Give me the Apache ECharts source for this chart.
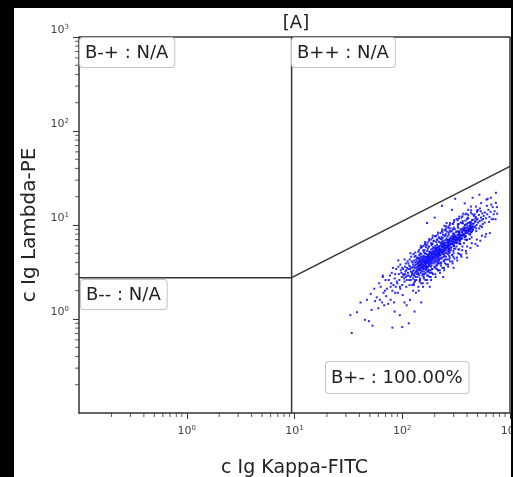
<!DOCTYPE html>
<html><head><meta charset="utf-8">
<script src="https://cdn.jsdelivr.net/npm/echarts@6/dist/echarts.min.js"></script>
<style>
html,body{margin:0;padding:0;background:#000;width:513px;height:477px;overflow:hidden}
#c{position:absolute;left:14px;top:8px;width:497px;height:469px;background:#fff}
</style></head><body><div id="c"></div>
<script>
const titleText = '[A]';
const xName = 'c Ig Kappa-FITC';
const yName = 'c Ig Lambda-PE';
const axisMin = 0.1, axisMax = 1000;
const minorTicks = [0.2,0.3,0.4,0.5,0.6,0.7,0.8,0.9,2,3,4,5,6,7,8,9,20,30,40,50,60,70,80,90,200,300,400,500,600,700,800,900];
const gateX = 9.4;
const gateVertical = [[gateX,0.1],[gateX,1000]];
const gateHorizontal = [[0.1,2.75],[gateX,2.75]];
const gateDiagonal = [[gateX,2.75],[1000,42]];
const quadrantLabels = ['B-+ : N/A','B++ : N/A','B-- : N/A','B+- : 100.00%'];
const events = [
[34,0.71],[33,1.1],[38,1.18],[45,0.98],[41,1.5],[47,1.6],[52,1.25],[55,2.1],[51,1.85],[56,1.55],[53,0.85],[49,0.95],
[58,1.7],[63,2.2],[60,1.3],[67,1.9],[70,2.6],[65,1.5],[69,2.0],[61,2.4],[66,2.8],[68,1.4],[71,1.75],[62,1.6],
[72,2.1],[75,2.6],[78,1.6],[80,3.1],[83,2.3],[86,1.9],[74,1.45],[77,2.9],[81,2.0],[85,2.7],[88,3.4],[79,2.4],[84,1.5],[87,2.2],[82,3.5],[89,2.5],[86,3.0],[78,2.2],
[90,2.4],[93,3.0],[96,2.1],[99,2.8],[102,3.4],[105,2.5],[108,3.9],[111,2.9],[91,1.9],[94,2.6],[97,3.3],[100,2.3],[103,2.9],[106,3.6],[109,2.2],[92,3.6],[95,2.2],[98,3.1],[101,1.8],[104,2.7],[107,3.2],[110,2.6],[96,3.8],[102,3.0],[105,4.3],[108,2.8],[111,3.5],[100,3.5],[106,3.0],[109,3.3],[112,4.1],
[113,3.1],[116,2.6],[119,3.6],[122,2.9],[125,4.0],[128,3.3],[131,2.5],[134,3.8],[137,3.0],[140,4.4],[114,3.9],[117,2.3],[120,3.2],[123,3.5],[126,2.7],[129,4.2],[132,3.1],[135,3.5],[138,2.8],[141,3.7],[115,2.9],[118,3.4],[121,4.6],[124,3.0],[127,3.6],[130,2.9],[133,4.7],[136,3.3],[139,3.9],[116,3.7],[119,2.8],[122,4.1],[125,3.2],[128,2.4],[131,3.7],[134,3.2],[137,4.5],[140,3.1],[117,4.3],[120,2.6],[123,3.1],[126,3.8],[129,2.9],[132,4.0],[135,2.6],[138,3.6],[141,5.2],[114,3.4],[124,2.3],[130,3.5],[136,4.1],[119,5.0],[127,3.0],[133,2.8],[139,3.3],
[142,3.6],[145,4.2],[148,3.1],[151,3.9],[154,4.6],[157,3.4],[160,4.0],[163,5.0],[166,3.7],[169,4.3],[172,3.2],[175,4.8],[178,4.1],
[143,4.5],[146,3.3],[149,3.8],[152,4.3],[155,3.0],[158,4.7],[161,3.6],[164,4.2],[167,3.4],[170,5.3],[173,3.9],[176,4.4],
[144,2.9],[147,4.0],[150,4.9],[153,3.5],[156,4.1],[159,3.2],[162,4.4],[165,3.8],[168,4.9],[171,3.5],[174,4.2],[177,3.7],
[142,4.1],[145,3.5],[148,4.4],[151,3.3],[154,3.8],[157,5.4],[160,3.0],[163,4.1],[166,4.6],[169,3.6],[172,4.5],[175,3.3],[178,5.2],
[146,2.6],[152,5.8],[158,2.8],[164,6.1],[170,2.9],[176,5.9],[149,4.6],[155,4.4],[161,5.0],[167,4.0],[173,4.7],[143,3.8],[156,3.6],[162,3.9],[168,4.2],[174,3.6],[150,3.7],[165,3.1],[177,4.0],
[179,4.6],[182,5.2],[185,4.0],[188,4.8],[191,5.6],[194,4.3],[197,5.0],[200,4.5],[203,6.0],[206,4.9],[209,4.2],[212,5.4],[215,4.7],[218,5.9],[221,5.1],[224,4.4],
[180,3.8],[183,4.4],[186,5.5],[189,4.1],[192,4.9],[195,3.9],[198,5.7],[201,4.8],[204,4.1],[207,5.3],[210,6.2],[213,4.5],[216,5.0],[219,4.2],[222,5.6],
[181,5.0],[184,3.6],[187,4.6],[190,6.3],[193,4.6],[196,5.3],[199,3.6],[202,5.1],[205,5.7],[208,3.8],[211,4.8],[214,5.8],[217,4.3],[220,6.6],[223,4.9],
[179,3.3],[185,6.4],[191,3.4],[197,6.8],[203,3.5],[209,7.0],[215,3.9],[221,7.4],[188,5.1],[194,5.8],[200,4.0],[206,5.5],[212,4.0],[218,5.2],[182,4.2],[196,4.6],[210,5.1],[224,5.3],[187,3.1],[201,7.6],[214,3.3],
[225,5.6],[229,6.3],[233,5.0],[237,6.0],[241,6.8],[245,5.3],[249,6.1],[253,5.7],[257,7.2],[261,5.9],[265,5.2],[269,6.6],[273,6.0],[277,7.0],[281,6.3],
[227,4.8],[231,5.4],[235,6.6],[239,5.1],[243,5.9],[247,4.7],[251,6.9],[255,5.4],[259,6.4],[263,7.6],[267,5.5],[271,6.2],[275,5.1],[279,7.4],
[226,6.5],[230,4.4],[234,5.8],[238,7.3],[242,4.9],[246,6.5],[250,5.6],[254,4.6],[258,6.0],[262,6.9],[266,4.9],[270,7.9],[274,5.6],[278,6.7],[282,5.4],
[228,3.9],[236,8.4],[244,4.1],[252,8.8],[260,4.3],[268,9.3],[276,4.5],[232,7.0],[240,6.3],[248,7.7],[256,5.0],[264,6.1],[272,5.3],[280,8.5],[234,4.5],[258,10.5],[246,9.8],
[284,6.8],[289,7.6],[294,6.2],[299,7.3],[304,8.1],[309,6.5],[314,7.5],[319,7.0],[324,8.6],[329,7.2],[334,6.4],[339,8.0],[344,7.4],[349,8.9],[354,7.8],
[286,5.8],[291,6.6],[296,8.1],[301,6.0],[306,7.1],[311,5.6],[316,8.4],[321,6.6],[326,7.8],[331,9.3],[336,6.9],[341,7.6],[346,6.3],[351,9.0],
[288,8.6],[298,5.3],[308,9.0],[318,5.9],[328,10.2],[338,5.5],[348,10.6],[293,7.0],[303,7.8],[313,6.9],[323,7.4],[333,8.3],[343,6.8],[353,7.1],[296,10.3],[320,11.6],[340,4.9],[290,4.8],
[358,8.4],[364,9.2],[370,7.8],[376,9.0],[382,10.0],[388,8.2],[394,9.4],[400,8.8],[406,10.5],[412,9.0],[418,8.0],[424,9.8],[430,9.1],[436,10.8],[442,9.5],
[361,7.2],[367,10.4],[373,8.7],[379,7.5],[385,11.1],[391,8.5],[397,7.0],[403,9.9],[409,11.7],[415,8.6],[421,10.7],[427,7.9],[433,9.6],[439,8.4],[445,11.3],
[362,12.4],[374,6.4],[386,13.0],[398,6.9],[410,12.8],[422,7.1],[434,13.5],[446,9.0],[368,8.9],[392,10.2],[416,9.3],[440,7.4],
[450,10.3],[458,11.4],[466,9.6],[474,10.9],[482,12.2],[490,10.0],[498,11.6],[506,10.6],[514,12.8],[522,11.0],[530,9.8],[538,12.0],[546,11.2],[554,13.3],[562,11.6],
[454,8.8],[470,13.0],[486,8.6],[502,14.4],[518,9.2],[534,14.0],[550,9.5],[462,12.5],[494,13.8],[526,15.0],[558,10.2],[478,11.8],
[570,12.5],[585,13.6],[600,11.8],[615,13.0],[630,14.5],[645,12.2],[660,13.8],[675,11.5],[690,15.5],[705,13.0],[580,10.6],[610,16.0],[640,10.8],[670,16.5],[700,11.6],
[720,14.0],[740,17.2],[760,13.2],[735,11.5],[740,22],[755,15.5],
[234,16],[290,14.5],[380,17],[310,19],[450,19.5],[520,21],[620,19],[200,12],[170,10.5],
[81,0.81],[100,0.82],[115,0.9],[130,1.2],[150,1.5],[95,1.1],[180,2.2],[240,2.8],[300,3.5],[400,4.5],[500,6],[600,8],
[66,2.9],[85,1.2],[92,4.2],[105,1.5],[110,1.4],[118,1.6],
[126,2.0],[128,2.3],[130,4.6],[132,5.1],[134,1.9],[127,4.9],[131,2.6],[135,4.3],
[141,2.2],[143,5.4],[145,2.5],[147,5.0],[149,6.0],[142,2.0],[144,4.8],[146,2.7],[148,5.7],[150,2.4],
[155,2.4],[157,6.0],[159,2.7],[161,5.4],[163,6.6],[156,2.2],[158,5.2],[160,3.0],[162,6.3],[164,2.6],[166,5.8],[154,2.9],
[170,2.6],[172,6.5],[174,2.9],[176,5.9],[178,7.1],[171,2.4],[173,5.6],[175,3.2],[177,6.8],[179,2.8],[169,6.2],[180,3.1],
[184,2.8],[186,7.0],[188,3.1],[190,6.3],[192,7.7],[185,2.6],[187,6.1],[189,3.4],[191,7.3],[193,3.0],[195,6.7],[183,3.3],
[203,3.0],[206,7.6],[209,3.4],[212,6.9],[215,8.3],[204,2.8],[207,6.6],[210,3.7],[213,7.9],[216,3.3],[218,7.3],[201,3.6],
[223,3.3],[226,8.2],[229,3.7],[232,7.4],[235,9.0],[224,3.1],[227,7.1],[230,4.0],[233,8.6],[236,3.5],[238,7.9],[221,3.9],
[244,3.5],[247,8.8],[250,3.9],[253,8.0],[256,9.7],[245,3.3],[248,7.7],[251,4.3],[254,9.2],[257,3.8],[259,8.5],[242,4.2],
[266,3.8],[269,9.6],[272,4.3],[275,8.7],[278,10.5],[267,3.6],[270,8.3],[273,4.7],[276,10.0],[279,4.1],[281,9.2],
[292,4.1],[295,10.3],[298,4.6],[301,9.4],[304,11.3],[293,3.9],[296,9.0],[299,5.0],[302,10.8],[305,4.4],
[322,4.5],[326,11.2],[330,5.0],[334,10.2],[338,12.3],[324,4.2],[328,9.7],[332,5.5],[336,11.7],
[352,4.8],[356,12.0],[360,5.4],[364,11.0],[368,13.2],[354,4.6],[358,10.5],[362,5.9],
[390,5.3],[395,13.2],[400,5.9],[405,12.0],[410,14.5],[393,5.0],[398,11.5],
[430,5.7],[436,14.3],[442,6.4],[448,13.0],[434,15.7],
[478,6.3],[484,15.7],[492,7.0],[498,14.3],
[530,6.8],[540,17.1],[550,7.7],[590,7.5],[605,18.6],[650,8.2],[665,19.5],
[147,3.4],[149,4.1],[151,3.8],[153,3.2],[155,4.3],[148,3.6],[152,4.0],[154,3.5],
[166,3.9],[168,4.5],[170,3.6],[172,4.2],[174,4.8],[167,3.3],[171,4.0],[173,4.4],
[186,4.3],[188,4.9],[190,4.0],[192,4.6],[194,5.3],[187,3.7],[191,4.4],[193,5.0],
[210,4.7],[213,5.4],[216,4.4],[219,5.1],[212,5.8],[217,4.1],[214,4.9],[220,5.5],
[235,5.2],[238,6.0],[241,4.9],[244,5.7],[237,6.4],[243,4.6],[239,5.4],[246,6.1],
[265,5.8],[268,6.6],[271,5.4],[274,6.3],[267,7.0],[273,5.1],[269,6.0],[276,6.8],
[295,6.4],[298,7.3],[301,6.0],[304,7.0],[297,7.7],[303,5.6],[299,6.7],[306,7.5],
[334,7.1],[338,8.1],[342,6.7],[346,7.7],[336,8.6],[344,6.3],[340,7.4],
[374,7.9],[378,9.0],[382,7.5],[386,8.6],[376,9.5],[384,7.0],
[424,8.7],[428,9.9],[432,8.3],[436,9.5],[426,10.5],
[474,9.6],[480,10.9],[486,9.2],[490,11.4],
[138,3.2],[139,3.9],[140,3.4],[141,4.0],[142,3.0],[143,3.7],[144,4.3],[145,3.3],[146,3.8],[147,4.1],
[155,3.6],[156,4.2],[157,3.8],[158,4.5],[159,3.4],[160,4.1],[161,3.7],[162,4.6],[163,3.9],[164,4.3],[165,3.5],[166,4.0],
[172,4.0],[174,4.6],[175,4.2],[176,4.9],[177,3.8],[178,4.5],[179,4.1],[181,5.0],[182,4.3],[183,4.7],[184,3.9],[185,4.4],[186,5.1],
[192,4.4],[194,5.0],[195,4.6],[196,5.3],[197,4.2],[198,4.9],[199,4.5],[201,5.4],[202,4.7],[203,5.1],[204,4.3],[205,4.8],[206,5.6],[207,4.5],
[212,4.8],[213,5.5],[214,5.0],[215,5.8],[216,4.6],[217,5.3],[218,4.9],[220,5.9],[221,5.1],[222,5.6],[223,4.7],[224,5.2],[225,6.0],[226,5.4],
[232,5.2],[234,6.0],[236,5.5],[238,6.3],[240,5.0],[242,5.8],[244,5.3],[246,6.4],[248,5.6],[250,6.1],[252,5.1],[254,5.7],[256,6.5],[258,5.9],
[262,5.8],[264,6.6],[266,6.1],[268,6.9],[270,5.6],[272,6.4],[274,5.9],[276,7.1],[278,6.2],[280,6.7],[282,5.7],[284,6.3],[286,7.2],
[290,6.3],[293,7.1],[296,6.6],[299,7.5],[302,6.1],[305,7.0],[308,6.5],[311,7.7],[314,6.8],[317,7.3],[320,6.4],[323,7.0],
[328,7.0],[332,7.9],[336,7.3],[340,8.3],[344,6.9],[348,7.8],[352,7.2],[356,8.5],[360,7.6],[364,8.1],
[370,7.8],[375,8.8],[380,8.1],[385,9.2],[390,7.6],[395,8.7],[400,8.2],[405,9.4],[410,8.5],[415,9.0],
[420,8.8],[426,9.8],[432,9.1],[438,10.2],[444,8.6],[450,9.7],[456,9.2],[462,10.4]
];

const chart = echarts.init(document.getElementById('c'), null, {renderer:'canvas'});
const FONT = 'DejaVu Sans';
function supLabel(v){
  const e = Math.round(Math.log10(v));
  if (e < 0) return '';
  return '{b|10}{s|' + e + '}';
}
const rich = {
  b:{fontSize:11,color:'#444',fontFamily:FONT,lineHeight:13},
  s:{fontSize:7,color:'#444',fontFamily:FONT,verticalAlign:'top',lineHeight:13}
};
const lblBase = {fontFamily:FONT,fontSize:18,fill:'#222',backgroundColor:'#fff',borderColor:'#c4c4c4',borderWidth:1,borderRadius:3,padding:[5,6,4,5],lineHeight:20};
const gateStyle = {color:'#333',width:1.5};
chart.setOption({
  animation:false,
  title:{text:titleText,left:277,top:1,textAlign:'center',textStyle:{fontFamily:FONT,fontSize:18,fontWeight:'normal',color:'#222'}},
  grid:{left:65,top:29,right:1,bottom:64,outerBoundsMode:'none',containLabel:false,show:false},
  xAxis:{type:'log',logBase:10,min:axisMin,max:axisMax,splitNumber:4,position:'bottom',
    name:xName,nameLocation:'middle',nameGap:46,nameTextStyle:{fontFamily:FONT,fontSize:19,color:'#222'},
    axisLine:{show:true,onZero:false,lineStyle:{color:'#333',width:1.5}},
    axisTick:{show:true,length:6,lineStyle:{color:'#333'}},
    splitLine:{show:false},
    axisLabel:{margin:12,formatter:supLabel,rich:rich,showMinLabel:false,hideOverlap:false}},
  yAxis:{type:'log',logBase:10,min:axisMin,max:axisMax,splitNumber:4,position:'left',
    name:yName,nameLocation:'middle',nameGap:38,nameTextStyle:{fontFamily:FONT,fontSize:20,color:'#222'},
    axisLine:{show:true,onZero:false,lineStyle:{color:'#333',width:1.5}},
    axisTick:{show:true,length:6,lineStyle:{color:'#333'}},
    splitLine:{show:false},
    axisLabel:{margin:10,formatter:supLabel,rich:rich,verticalAlign:'bottom',showMinLabel:false}},
  series:[
    {type:'scatter',data:events,symbol:'rect',symbolSize:2,itemStyle:{color:'#1212f5',opacity:0.9},silent:true,z:2},
    {type:'line',data:gateVertical,symbol:'none',lineStyle:gateStyle,silent:true,z:3},
    {type:'line',data:gateHorizontal,symbol:'none',lineStyle:gateStyle,silent:true,z:3},
    {type:'line',data:gateDiagonal,symbol:'none',lineStyle:gateStyle,silent:true,z:3},
    {type:'line',data:[[axisMin,axisMax],[axisMax,axisMax],[axisMax,axisMin]],symbol:'none',lineStyle:{color:'#333',width:1.5},clip:false,silent:true,z:3},
    {type:'scatter',data:minorTicks.map(v=>[v,axisMin]),symbol:'rect',symbolSize:[1,4],symbolOffset:[0,2],itemStyle:{color:'#333'},clip:false,silent:true,z:5},
    {type:'scatter',data:minorTicks.map(v=>[axisMin,v]),symbol:'rect',symbolSize:[4,1],symbolOffset:[-2,0],itemStyle:{color:'#333'},clip:false,silent:true,z:5}
  ],
  graphic:[
    {type:'text',left:65,top:29,z:10,style:Object.assign({text:quadrantLabels[0]},lblBase)},
    {type:'text',left:277,top:29,z:10,style:Object.assign({text:quadrantLabels[1]},lblBase)},
    {type:'text',left:66,top:271,z:10,style:Object.assign({text:quadrantLabels[2]},lblBase)},
    {type:'text',left:311,top:353,z:10,style:Object.assign({text:quadrantLabels[3]},lblBase,{padding:[6,6,5,5]})}
  ]
});
</script></body></html>
